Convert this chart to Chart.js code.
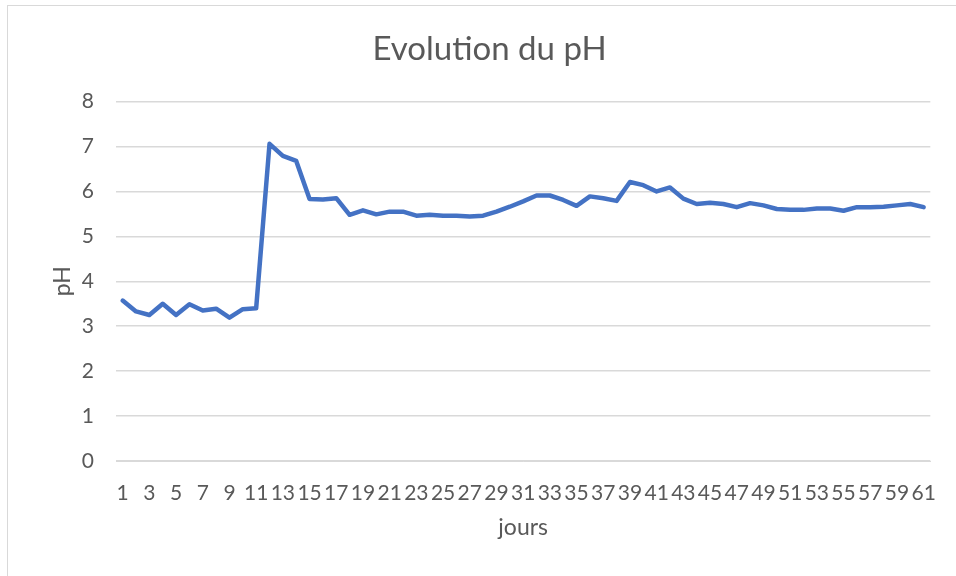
<!DOCTYPE html>
<html>
<head>
<meta charset="utf-8">
<script src="https://cdn.jsdelivr.net/npm/chart.js@4"></script>
<style>
  html, body { margin: 0; padding: 0; background: #fff; }
  #cadre { position: absolute; left: 7px; top: 5px; width: 1000px; height: 1000px; border: 1px solid #d9d9d9; }
  #zone { position: absolute; left: 0; top: 0; width: 956px; height: 576px; }
</style>
</head>
<body>
<div id="cadre"></div>
<div id="zone"><canvas id="graphique"></canvas></div>
<script>
// jours 1..61
const jours = [];
for (let j = 1; j <= 61; j++) jours.push(String(j));

const ph = [
  3.57, 3.33, 3.25, 3.50, 3.25, 3.49, 3.35, 3.39, 3.19, 3.38,
  3.40, 7.06, 6.79, 6.68, 5.83, 5.82, 5.85, 5.48, 5.58, 5.49,
  5.55, 5.55, 5.46, 5.48, 5.46, 5.46, 5.44, 5.46, 5.55, 5.66,
  5.78, 5.91, 5.91, 5.81, 5.68, 5.89, 5.85, 5.79, 6.21, 6.14,
  6.00, 6.09, 5.84, 5.72, 5.75, 5.72, 5.65, 5.74, 5.69, 5.61,
  5.59, 5.59, 5.62, 5.62, 5.57, 5.65, 5.65, 5.66, 5.69, 5.72,
  5.65
];

const yTicks = [0, 1, 2, 3, 4, 5, 6, 7, 8];

const GRIS_TEXTE = '#595959';
const GRIS_GRILLE = '#d9d9d9';
const POLICE = 'Lato, "Open Sans", sans-serif';

new Chart(document.getElementById('graphique'), {
  type: 'line',
  data: {
    labels: jours,
    datasets: [{
      label: 'pH',
      data: ph,
      borderColor: '#4472C4',
      borderWidth: 4.5,
      borderJoinStyle: 'round',
      borderCapStyle: 'round',
      pointRadius: 0,
      tension: 0,
      fill: false
    }]
  },
  options: {
    responsive: true,
    maintainAspectRatio: false,
    animation: false,
    layout: { padding: { left: 45, right: 22, top: 0, bottom: 31 } },
    plugins: {
      legend: { display: false },
      tooltip: { enabled: false },
      title: {
        display: true,
        text: 'Evolution du pH',
        color: GRIS_TEXTE,
        font: { family: POLICE, size: 33, weight: 'normal' },
        padding: { top: 30, bottom: 32 }
      }
    },
    scales: {
      x: {
        offset: true,
        grid: { display: false, drawTicks: false },
        border: { display: true, color: GRIS_GRILLE, width: 1 },
        ticks: {
          color: GRIS_TEXTE,
          font: { family: POLICE, size: 21 },
          autoSkip: false,
          maxRotation: 0,
          padding: 20,
          callback: (v, i) => (i % 2 === 0 ? jours[i] : '')
        },
        title: {
          display: true,
          text: 'jours',
          color: GRIS_TEXTE,
          font: { family: POLICE, size: 23 },
          padding: { top: 4, bottom: 4 }
        },
        afterFit: s => { s.height = 84; }
      },
      y: {
        min: 0,
        max: 8,
        afterBuildTicks: s => { s.ticks = yTicks.map(v => ({ value: v })); },
        grid: { color: GRIS_GRILLE, lineWidth: 1.5, drawTicks: false },
        border: { display: false },
        ticks: {
          color: GRIS_TEXTE,
          font: { family: POLICE, size: 21 },
          padding: 22
        },
        title: {
          display: true,
          text: 'pH',
          color: GRIS_TEXTE,
          font: { family: POLICE, size: 23 },
          padding: { top: 4, bottom: 4 }
        },
        afterFit: s => { s.width = 71; }
      }
    }
  }
});
</script>
</body>
</html>
